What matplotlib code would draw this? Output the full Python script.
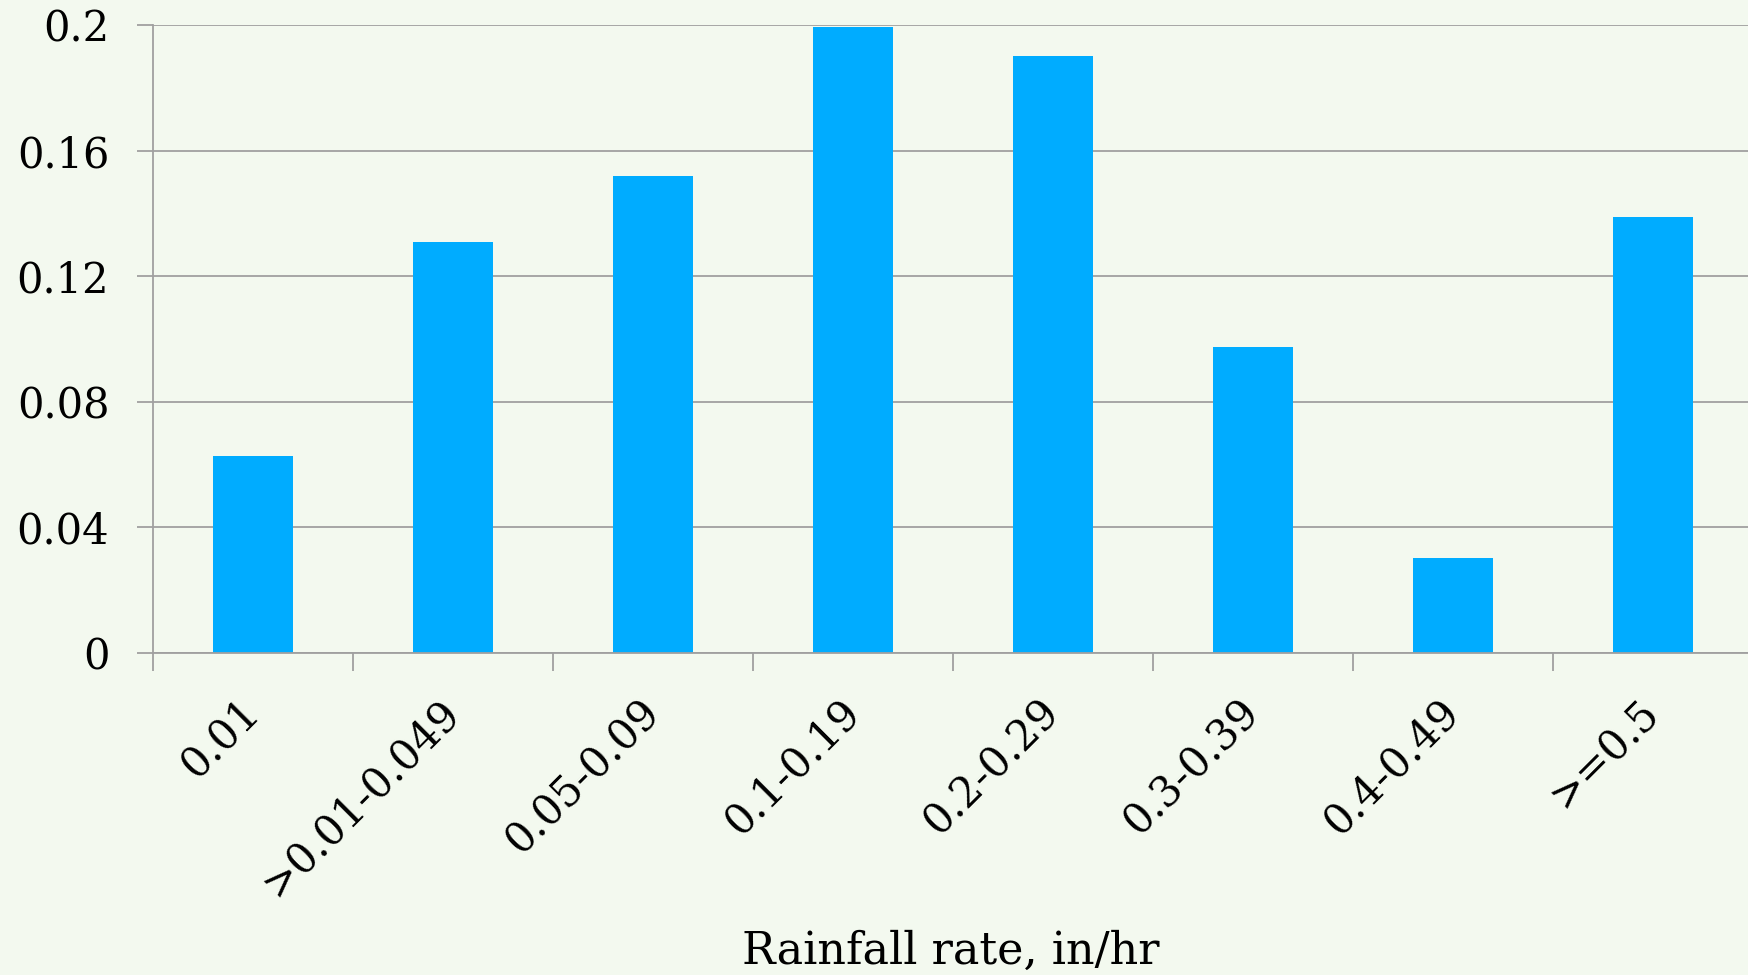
import matplotlib
matplotlib.use("Agg")
import matplotlib.pyplot as plt
import numpy as np

# rainfall rate bins and their fraction of events
categories = ["0.01", ">0.01-0.049", "0.05-0.09", "0.1-0.19",
              "0.2-0.29", "0.3-0.39", "0.4-0.49", ">=0.5"]
fractions = [0.0628, 0.1309, 0.1518, 0.1993, 0.1901, 0.0975, 0.0301, 0.139]
y_ticks = [0, 0.04, 0.08, 0.12, 0.16, 0.2]
y_tick_labels = ["0", "0.04", "0.08", "0.12", "0.16", "0.2"]

bg = "#F3F9EF"
bar_color = "#00ACFF"
grid_color = "#A0A0A0"

plt.rcParams["font.family"] = ["DejaVu Serif"]

fig = plt.figure(figsize=(17.48, 9.75), dpi=100, facecolor=bg)
W, H = 1748, 975
ax = fig.add_axes([153 / W, 1 - 653 / H, 1600 / W, (653 - 25) / H])
ax.set_facecolor(bg)

x = np.arange(len(categories))
ax.bar(x, fractions, width=0.4, color=bar_color, zorder=3)

ax.set_xlim(-0.5, len(categories) - 0.5)
ax.set_ylim(0, 0.2)

# horizontal gridlines
ax.set_yticks(y_ticks)
ax.set_yticklabels(y_tick_labels)
ax.yaxis.grid(True, color=grid_color, linewidth=1.3, zorder=0)
ax.tick_params(axis="y", direction="out", length=11.5, width=1.3,
               color=grid_color, pad=20, labelsize=30)

# category boundaries as tick marks, labels at centers
ax.set_xticks(x)
ax.set_xticklabels(categories, rotation=45, ha="right", va="center",
                   rotation_mode="anchor")
ax.set_xticks(np.arange(-0.5, len(categories) + 0.5, 1), minor=True)
ax.tick_params(axis="x", which="major", length=0, pad=38, labelsize=30)
ax.tick_params(axis="x", which="minor", direction="out", length=13,
               width=1.3, color=grid_color)

for s in ["top", "right"]:
    ax.spines[s].set_visible(False)
for s in ["left", "bottom"]:
    ax.spines[s].set_color(grid_color)
    ax.spines[s].set_linewidth(1.3)
    ax.spines[s].set_zorder(4)

fig.text((153 + 1748) / 2 / W, 1 - 964 / H, "Rainfall rate, in/hr",
         ha="center", va="baseline", fontsize=32)

fig.savefig("out.png", dpi=100, facecolor=bg)
